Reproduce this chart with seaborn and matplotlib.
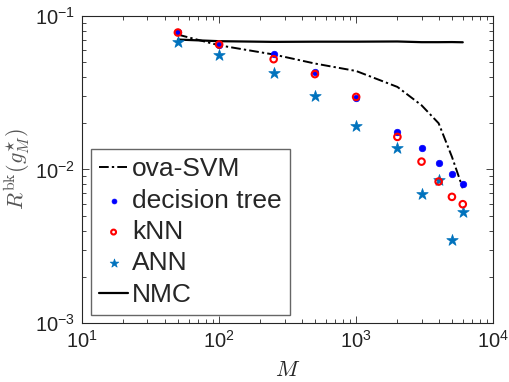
import numpy as np
import pandas as pd
import matplotlib
matplotlib.use("Agg")
import matplotlib.pyplot as plt
from matplotlib.ticker import LogLocator, LogFormatterSciNotation, NullFormatter
import seaborn as sns

# Training-set sizes
M = [50, 100, 250, 500, 1000, 2000, 3000, 4000, 5000, 6000]

# Risk estimates per classifier
ova_svm = [0.0756, 0.0644, 0.0561, 0.0490, 0.0438, 0.0345, 0.0262, 0.0200, 0.0121, 0.00755]
decision_tree = [0.0787, 0.0644, 0.0564, 0.0433, 0.0293, 0.0176, 0.0139, 0.0111, 0.0094, 0.00805]
knn = [0.0780, 0.0652, 0.0523, 0.0418, 0.0297, 0.0163, 0.01125, 0.00834, 0.00663, 0.00594]
ann = [0.0672, 0.0555, 0.0424, 0.0299, 0.0192, 0.01374, 0.00693, 0.00855, 0.00348, 0.00530]
nmc = [0.0702, 0.0685, 0.0678, 0.0680, 0.0680, 0.0682, 0.0675, 0.0675, 0.0676, 0.0674]

x_ticks = [10, 100, 1000, 10000]
y_ticks = [1e-3, 1e-2, 1e-1]

sns.set_style("ticks")
plt.rcParams["font.family"] = ["Liberation Sans", "DejaVu Sans"]
plt.rcParams["mathtext.fontset"] = "custom"
plt.rcParams["mathtext.rm"] = "Liberation Sans"
plt.rcParams["mathtext.it"] = "Liberation Sans:italic"

df = pd.DataFrame({"M": M, "ova": ova_svm, "dt": decision_tree,
                   "knn": knn, "ann": ann, "nmc": nmc})

fig = plt.figure(figsize=(5.10, 3.82), dpi=100)
ax = fig.add_axes([0.161, 0.1545, 0.806, 0.8037])

sns.lineplot(data=df, x="M", y="ova", ax=ax, color="black", lw=1.4,
             dashes=False, label="ova-SVM")
ax.lines[-1].set_dashes([5, 1.6, 1.2, 1.6])
sns.scatterplot(data=df, x="M", y="dt", ax=ax, color="#0000FF", marker="o",
                s=22, edgecolor="#0000FF", linewidth=0.5, label="decision tree", zorder=3)
sns.scatterplot(data=df, x="M", y="knn", ax=ax, marker="o", s=22,
                facecolor="none", edgecolor="#FF0000", linewidth=1.5, label="kNN", zorder=4)
sns.scatterplot(data=df, x="M", y="ann", ax=ax, color="#0072BD", marker="*",
                s=75, edgecolor="#0072BD", linewidth=0.5, label="ANN", zorder=3)
sns.lineplot(data=df, x="M", y="nmc", ax=ax, color="black", lw=1.6,
             linestyle="-", label="NMC")

ax.set_xscale("log")
ax.set_yscale("log")
ax.set_xlim(10, 10000)
ax.set_ylim(1e-3, 1e-1)
ax.xaxis.set_major_locator(LogLocator(base=10))
ax.yaxis.set_major_locator(LogLocator(base=10))
ax.xaxis.set_minor_locator(LogLocator(base=10, subs=np.arange(2, 10)))
ax.yaxis.set_minor_locator(LogLocator(base=10, subs=np.arange(2, 10)))
ax.set_xticks(x_ticks)
ax.set_yticks(y_ticks)
ax.xaxis.set_major_formatter(LogFormatterSciNotation())
ax.yaxis.set_major_formatter(LogFormatterSciNotation())
ax.xaxis.set_minor_formatter(NullFormatter())
ax.yaxis.set_minor_formatter(NullFormatter())

edge = "#262626"
for sp in ax.spines.values():
    sp.set_visible(True)
    sp.set_color(edge)
    sp.set_linewidth(0.8)
ax.tick_params(which="both", direction="in", top=True, right=True,
               color=edge, width=0.6)
ax.tick_params(which="major", length=5, labelsize=14.5, labelcolor="#222222", pad=5)
ax.tick_params(which="minor", length=3)

ax.set_xlabel("$M$", fontsize=16, math_fontfamily="cm", labelpad=6)
ax.set_ylabel(r"$R^{\mathrm{bk}}(g_M^{\star})$", fontsize=16, math_fontfamily="cm",
              color="#555555", labelpad=2)

handles, labels = ax.get_legend_handles_labels()
leg = ax.legend(handles, labels, loc="lower left", bbox_to_anchor=(0.022, 0.027),
                fontsize=19, frameon=True, fancybox=False, framealpha=1,
                edgecolor="#666666", handlelength=1.1, handletextpad=0.15,
                labelspacing=0.28, borderpad=0.3, borderaxespad=0,
                markerscale=0.75)
leg.get_frame().set_linewidth(1.0)

fig.savefig("out.png", dpi=100)
